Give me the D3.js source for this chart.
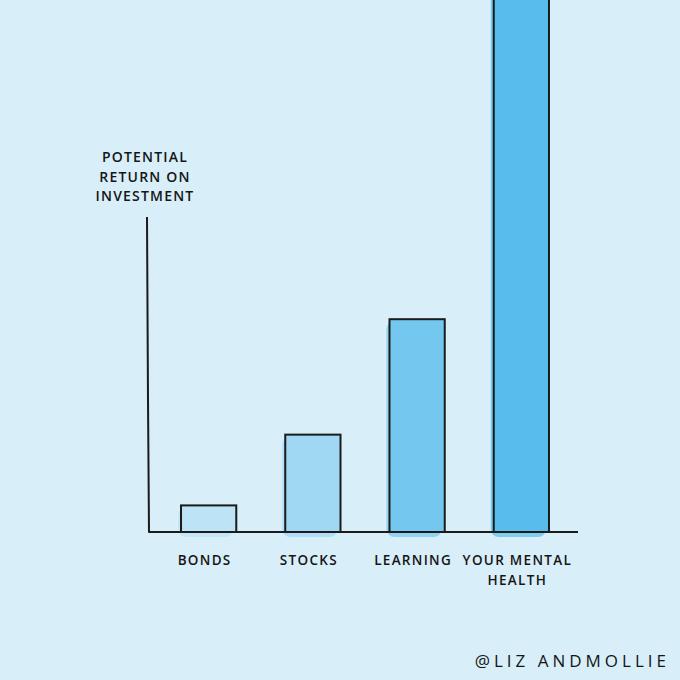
<!DOCTYPE html>
<html>
<head>
<meta charset="utf-8">
<script src="https://d3js.org/d3.v7.min.js"></script>
<style>
html,body{margin:0;padding:0;background:#D8EEF9;}
svg{display:block;}
text{font-family:"Open Sans","DejaVu Sans",sans-serif;fill:#151515;font-weight:600;}
</style>
</head>
<body>
<svg id="chart" width="680" height="680"></svg>
<script>
const categories = ["BONDS", "STOCKS", "LEARNING", "YOUR MENTAL HEALTH"];
const labelLines = [["BONDS"], ["STOCKS"], ["LEARNING"], ["YOUR MENTAL", "HEALTH"]];
const values = [5, 18.3, 40, 105];
const barColors = ["#BDE3F6", "#A0D8F3", "#74C7EE", "#58BDEC"];
const yTitleLines = ["POTENTIAL", "RETURN ON", "INVESTMENT"];
const credit = "@LIZ ANDMOLLIE";

const svg = d3.select("#chart");
const W = 680, H = 680;
svg.append("rect").attr("width", W).attr("height", H).attr("fill", "#D8EEF9");

const baseY = 532;
const x = d3.scaleBand().domain(categories).range([156, 574]).paddingInner(0.47).paddingOuter(0.24);
const y = d3.scaleLinear().domain([0, 100]).range([baseY, 0]);

const data = categories.map((c, i) => ({c, v: values[i], color: barColors[i], lines: labelLines[i]}));

// soft painted blobs behind bars
svg.append("g").selectAll("rect").data(data).join("rect")
  .attr("x", d => x(d.c) - 3)
  .attr("y", d => Math.max(y(d.v), -20) + 2)
  .attr("width", x.bandwidth())
  .attr("height", d => baseY - Math.max(y(d.v), -20) + 3)
  .attr("rx", 8)
  .attr("fill", d => d.color)
  .attr("opacity", 0.7);

// bars
svg.append("g").selectAll("rect").data(data).join("rect")
  .attr("x", d => x(d.c))
  .attr("y", d => y(d.v))
  .attr("width", x.bandwidth())
  .attr("height", d => baseY - y(d.v))
  .attr("fill", d => d.color)
  .attr("stroke", "#1b1b1b")
  .attr("stroke-width", 2);

// axes
svg.append("path")
  .attr("d", `M147,217 L148,400 L149,532 L578,532`)
  .attr("fill", "none").attr("stroke", "#1b1b1b").attr("stroke-width", 2)
  .attr("stroke-linejoin", "round");

// category labels
const lab = svg.append("g").attr("font-size", 13.5).attr("letter-spacing", 1.3).attr("text-anchor", "middle");
data.forEach(d => {
  d.lines.forEach((ln, j) => {
    lab.append("text")
      .attr("x", x(d.c) + x.bandwidth() / 2 - 4)
      .attr("y", 565 + j * 20)
      .text(ln);
  });
});

// y title
const yt = svg.append("g").attr("font-size", 14).attr("letter-spacing", 1.2).attr("text-anchor", "middle");
yTitleLines.forEach((ln, j) => {
  yt.append("text").attr("x", 145).attr("y", 162 + j * 19.5).text(ln);
});

// credit
svg.append("text")
  .attr("x", 670).attr("y", 667)
  .attr("text-anchor", "end")
  .attr("font-size", 17)
  .style("font-weight", 400)
  .attr("letter-spacing", 4)
  .text(credit);
</script>
</body>
</html>
